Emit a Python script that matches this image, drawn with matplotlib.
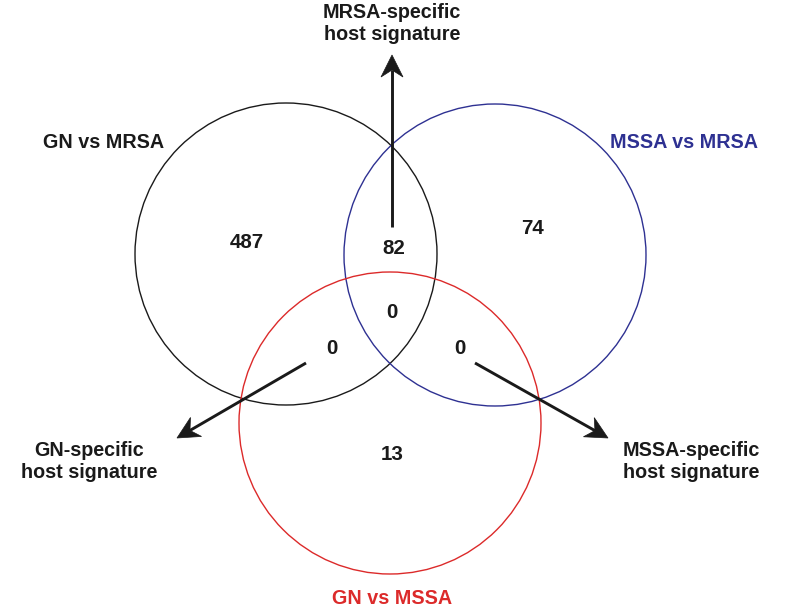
import matplotlib
matplotlib.use("Agg")
import matplotlib.pyplot as plt
from matplotlib.patches import Circle, Polygon
import numpy as np

# ---- data ----
set_names = ["GN vs MRSA", "MSSA vs MRSA", "GN vs MSSA"]
region_labels = ["GN vs MRSA only", "GN vs MRSA & MSSA vs MRSA", "MSSA vs MRSA only",
                 "all three", "GN vs MRSA & GN vs MSSA", "MSSA vs MRSA & GN vs MSSA",
                 "GN vs MSSA only"]
region_counts = [487, 82, 74, 0, 0, 0, 13]
signature_labels = ["MRSA-specific\nhost signature", "GN-specific\nhost signature",
                    "MSSA-specific\nhost signature"]

# ---- layout (pixel coordinates, y downward) ----
W, H = 800, 612
circle_centers = [(286, 254), (495, 255), (390, 423)]
circle_radius = 151
circle_colors = ["#1a1a1a", "#2e3192", "#dc2a2a"]
set_label_pos = [(104, 143), (684, 143), (392, 598)]
region_pos = [(247, 243), (394, 249), (533, 229), (392, 313),
              (332, 349), (460, 349), (392, 454)]
arrows = [((392, 227), (392, 55)), ((306, 363), (177, 438)), ((475, 363), (608, 438))]
sig_label_pos = [(392, 23), (89, 462), (691, 462)]

fig = plt.figure(figsize=(W / 100, H / 100), dpi=100)
ax = fig.add_axes([0, 0, 1, 1])
ax.set_xlim(0, W)
ax.set_ylim(H, 0)
ax.set_aspect("equal")
ax.axis("off")

FONT = "Liberation Sans"

for c, col in zip(circle_centers, circle_colors):
    ax.add_patch(Circle(c, circle_radius, fill=False, edgecolor=col, linewidth=1.0))

for name, pos, col in zip(set_names, set_label_pos, circle_colors):
    ax.text(pos[0], pos[1], name, ha="center", va="center", fontsize=14.2,
            fontweight="bold", color=col, family=FONT)

for cnt, pos in zip(region_counts, region_pos):
    ax.text(pos[0], pos[1], str(cnt), ha="center", va="center", fontsize=14.8,
            fontweight="bold", color="#1a1a1a", family=FONT)


def draw_arrow(start, end, head_len=22, head_w=11, notch=7):
    s = np.array(start, float)
    e = np.array(end, float)
    d = (e - s) / np.linalg.norm(e - s)
    n = np.array([-d[1], d[0]])
    base = e - d * head_len
    inner = e - d * (head_len - notch)
    ax.plot([s[0], inner[0]], [s[1], inner[1]],
            color="#1a1a1a", linewidth=2.1, solid_capstyle="butt")
    pts = [e, base + n * head_w, inner, base - n * head_w]
    ax.add_patch(Polygon(pts, closed=True, facecolor="#1a1a1a", edgecolor="#1a1a1a",
                         linewidth=0.5))


for (s, e) in arrows:
    draw_arrow(s, e)

for lab, pos in zip(signature_labels, sig_label_pos):
    ax.text(pos[0], pos[1], lab, ha="center", va="center", fontsize=14.2,
            fontweight="bold", color="#1a1a1a", family=FONT, linespacing=1.2)

fig.savefig("out.png", dpi=100)
